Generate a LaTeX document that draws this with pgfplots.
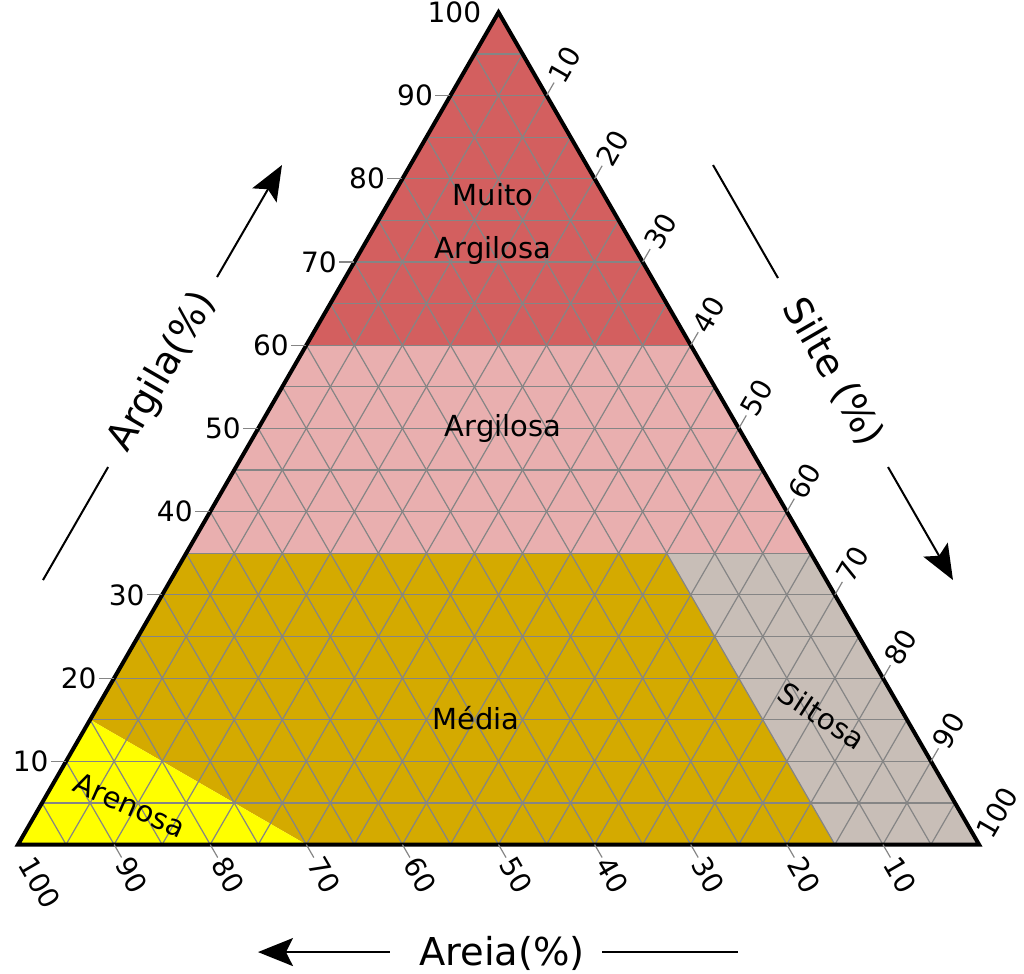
\documentclass[border=0pt]{standalone}
\usepackage{fontspec}
\setmainfont{DejaVu Sans}
\usepackage{pgfplots}
\pgfplotsset{compat=1.18}
\usepackage{pgfplotstable}
\usetikzlibrary{arrows.meta}
\definecolor{muito}{HTML}{D35F5F}
\definecolor{argilosa}{HTML}{E9AFAF}
\definecolor{media}{HTML}{D4AA00}
\definecolor{siltosa}{HTML}{C8BEB7}
\definecolor{arenosa}{HTML}{FFFF00}
\definecolor{gridc}{HTML}{858585}
\newcommand\tickfont{\fontsize{14}{16}\selectfont}
\newcommand\regfont{\fontsize{14.5}{17}\selectfont}
\newcommand\titfont{\fontsize{19.2}{22}\selectfont}
\tikzset{bigarrow/.style={line width=1pt, -{Stealth[length=17.5pt,width=14pt,inset=3.5pt]}}}

% ternary regions: sand, silt, clay (%)
\pgfplotstableread{
sand silt clay
40 0 60
0 40 60
0 0 100
}\muitoargilosa
\pgfplotstableread{
sand silt clay
65 0 35
0 65 35
0 40 60
40 0 60
}\argilosa
\pgfplotstableread{
sand silt clay
85 0 15
65 0 35
15 50 35
15 85 0
70 30 0
}\media
\pgfplotstableread{
sand silt clay
15 50 35
0 65 35
0 100 0
15 85 0
}\siltosa
\pgfplotstableread{
sand silt clay
100 0 0
70 30 0
85 0 15
}\arenosa

\begin{document}
\begin{tikzpicture}
\begin{axis}[x=4.805pt, y=4.161pt,
  xmin=-1.873, xmax=104.68, ymin=-15.44, ymax=101.48,
  hide axis, clip=false]
\addplot[fill=muito, draw=none] table[x expr={\thisrow{silt}+0.5*\thisrow{clay}}, y=clay] {\muitoargilosa} -- cycle;
\addplot[fill=argilosa, draw=none] table[x expr={\thisrow{silt}+0.5*\thisrow{clay}}, y=clay] {\argilosa} -- cycle;
\addplot[fill=media, draw=none] table[x expr={\thisrow{silt}+0.5*\thisrow{clay}}, y=clay] {\media} -- cycle;
\addplot[fill=siltosa, draw=none] table[x expr={\thisrow{silt}+0.5*\thisrow{clay}}, y=clay] {\siltosa} -- cycle;
\addplot[fill=arenosa, draw=none] table[x expr={\thisrow{silt}+0.5*\thisrow{clay}}, y=clay] {\arenosa} -- cycle;

% grid every 5 %
\pgfplotsinvokeforeach{5,10,...,95}{
  \draw[gridc, line width=0.6pt] (axis cs:{#1/2},#1) -- (axis cs:{100-#1/2},#1);
  \draw[gridc, line width=0.6pt] (axis cs:#1,0) -- (axis cs:{50+#1/2},{100-#1});
  \draw[gridc, line width=0.6pt] (axis cs:{100-#1},0) -- (axis cs:{(100-#1)/2},{100-#1});
}
\addplot[black, line width=2pt, line join=miter] coordinates {(0,0) (100,0) (50,100)} -- cycle;

% ticks and tick labels
\pgfplotsinvokeforeach{10,20,...,90}{
  \draw[gridc, line width=0.6pt] (axis cs:{#1/2},#1) -- (axis cs:{#1/2-1.56},#1)
     node[black, anchor=east, inner sep=1pt, font=\tickfont] {#1};
  \draw[gridc, line width=0.6pt] (axis cs:{50+#1/2},{100-#1}) -- (axis cs:{50.78+#1/2},{101.56-#1})
     node[black, anchor=west, rotate=60, inner sep=1pt, font=\tickfont] {#1};
  \draw[gridc, line width=0.6pt] (axis cs:{100-#1},0) -- (axis cs:{100.78-#1},-1.56)
     node[black, anchor=west, rotate=-60, inner sep=1pt, font=\tickfont] {#1};
}
\node[anchor=east, inner sep=1pt, font=\tickfont] at (axis cs:48.44,100) {100};
\node[anchor=west, rotate=60, inner sep=1pt, font=\tickfont] at (axis cs:100.35,0.8) {100};
\node[anchor=west, rotate=-60, inner sep=1pt, font=\tickfont] at (axis cs:0.78,-1.56) {100};

% region labels
\node[font=\regfont] at (axis cs:49.43,78.05) {Muito};
\node[font=\regfont] at (axis cs:49.43,71.44) {Argilosa};
\node[font=\regfont] at (axis cs:50.47,50.05) {Argilosa};
\node[font=\regfont] at (axis cs:47.66,15.20) {Média};
\node[font=\regfont, rotate=-33] at (axis cs:83.66,15.44) {Siltosa};
\node[font=\regfont, rotate=-24] at (axis cs:11.65,4.75) {Arenosa};

% axis titles with arrows
\node[font=\titfont, rotate=60] at (axis cs:15.09,56.78) {Argila(\%)};
\draw[line width=1pt] (axis cs:2.60,31.78) -- (axis cs:9.375,45.36);
\draw[bigarrow] (axis cs:20.71,68.19) -- (axis cs:27.47,81.65);

\node[font=\titfont, rotate=-60] at (axis cs:84.81,56.78) {Silte (\%)};
\draw[line width=1pt] (axis cs:72.32,81.65) -- (axis cs:79.08,68.07);
\draw[bigarrow] (axis cs:90.53,45.36) -- (axis cs:97.29,31.78);

\node[font=\titfont] at (axis cs:50.36,-13.04) {Areia(\%)};
\draw[bigarrow] (axis cs:38.7,-12.92) -- (axis cs:24.97,-12.92);
\draw[line width=1pt] (axis cs:60.77,-12.92) -- (axis cs:74.92,-12.92);
\end{axis}
\pgfresetboundingbox
\useasboundingbox (current axis.south west) rectangle (current axis.north east);
\end{tikzpicture}
\end{document}
